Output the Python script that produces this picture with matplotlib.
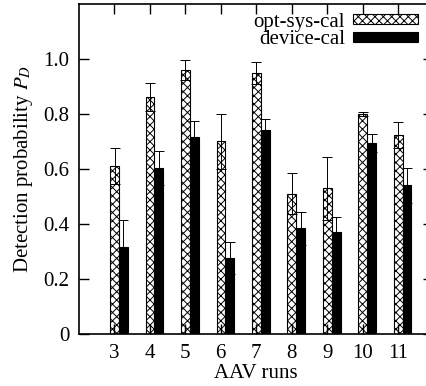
import matplotlib.pyplot as plt
import numpy as np

plt.rcParams['font.family'] = ['Liberation Serif', 'DejaVu Serif']
plt.rcParams['mathtext.fontset'] = 'stix'
plt.rcParams['hatch.linewidth'] = 0.7

runs = [3, 4, 5, 6, 7, 8, 9, 10, 11]
opt_sys = [0.61, 0.862, 0.96, 0.70, 0.95, 0.51, 0.53, 0.80, 0.725]
opt_sys_err = [0.065, 0.05, 0.037, 0.10, 0.04, 0.075, 0.115, 0.006, 0.047]
device = [0.315, 0.605, 0.717, 0.275, 0.74, 0.385, 0.37, 0.695, 0.54]
device_err = [0.10, 0.062, 0.058, 0.058, 0.043, 0.06, 0.055, 0.033, 0.065]
yticks = [0, 0.2, 0.4, 0.6, 0.8, 1.0]
ytick_labels = ['0', '0.2', '0.4', '0.6', '0.8', '1.0']

fig = plt.figure(figsize=(4.27, 3.86), dpi=100)
ax = fig.add_axes([0.185, 0.1347, 0.830, 0.855])

x = np.array(runs)
w = 0.25
ax.bar(x + 0.005, opt_sys, w, color='white', edgecolor='black', hatch='xxxx',
       linewidth=0.8, label='opt-sys-cal')
ax.bar(x + 0.005 + w, device, w, color='black', edgecolor='black',
       linewidth=0.8, label='device-cal')
ax.errorbar(x + 0.005, opt_sys, yerr=opt_sys_err, fmt='none', ecolor='black',
            elinewidth=0.7, capsize=3.3, capthick=0.7)
ax.errorbar(x + 0.005 + w, device, yerr=device_err, fmt='none', ecolor='black',
            elinewidth=0.7, capsize=3.3, capthick=0.7)

ax.set_xlim(2, 12)
ax.set_ylim(0, 1.2)
ax.set_xticks(runs)
ax.set_yticks(yticks)
ax.set_yticklabels(ytick_labels)
ax.tick_params(direction='in', length=7, width=1, top=True, right=True,
               labelsize=15, pad=7)
for s in ax.spines.values():
    s.set_linewidth(1.2)

ax.set_xlabel('AAV runs', fontsize=15, labelpad=1)
ax.set_ylabel('Detection probability $P_D$', fontsize=15, labelpad=6)

ax.legend(loc='upper right', bbox_to_anchor=(0.985, 1.005), frameon=False,
          markerfirst=False, fontsize=15, handlelength=3.1, handleheight=0.35,
          labelspacing=-0.08, handletextpad=0.4, borderaxespad=0.1)

fig.savefig('out.png', dpi=100)
plt.close(fig)
